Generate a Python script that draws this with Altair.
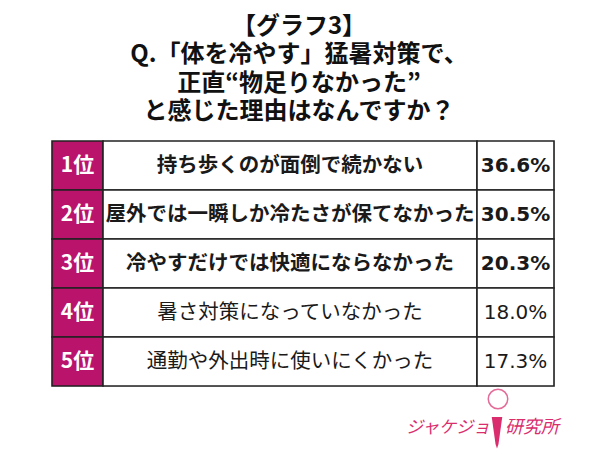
import altair as alt
import pandas as pd

# ---- data ----
title_lines = ["【グラフ3】", "Q.「体を冷やす」猛暑対策で、", "正直“物足りなかった”", "と感じた理由はなんですか？"]
ranks = ["1位", "2位", "3位", "4位", "5位"]
reasons = [
    "持ち歩くのが面倒で続かない",
    "屋外では一瞬しか冷たさが保てなかった",
    "冷やすだけでは快適にならなかった",
    "暑さ対策になっていなかった",
    "通勤や外出時に使いにくかった",
]
values = [36.6, 30.5, 20.3, 18.0, 17.3]
logo_parts = ["ジャケジョ", "研究所"]

# ---- layout constants ----
W, H = 502, 245
COL_EDGES = [0, 51, 425, 502]
MAGENTA = "#BA136C"
PINK = "#DA2D6E"
JP = "Noto Sans CJK JP"

rows = pd.DataFrame({
    "rank": ranks,
    "reason": reasons,
    "pct": [f"{v:.1f}%" for v in values],
    "top": [i < 3 for i in range(len(ranks))],
})
rows["xc0"] = (COL_EDGES[0] + COL_EDGES[1]) / 2
rows["xc1"] = (COL_EDGES[1] + COL_EDGES[2]) / 2
rows["xc2"] = (COL_EDGES[2] + COL_EDGES[3]) / 2

cells = []
for r in ranks:
    for c in range(3):
        cells.append({"rank": r, "x0": COL_EDGES[c], "x1": COL_EDGES[c + 1],
                      "kind": "rank" if c == 0 else "body"})
cells = pd.DataFrame(cells)

xs = alt.Scale(domain=[0, W], nice=False, zero=False)
ys = alt.Scale(domain=ranks, paddingInner=0, paddingOuter=0)

rect = alt.Chart(cells).mark_rect(stroke="#222222", strokeWidth=1.6).encode(
    x=alt.X("x0:Q", scale=xs, axis=None),
    x2="x1:Q",
    y=alt.Y("rank:N", scale=ys, axis=None, sort=ranks),
    color=alt.Color("kind:N", scale=alt.Scale(domain=["rank", "body"], range=[MAGENTA, "#ffffff"]), legend=None),
)

base = alt.Chart(rows)
yenc = alt.Y("rank:N", scale=ys, axis=None, sort=ranks)

rank_text = base.mark_text(font=JP, fontSize=21, fontWeight="bold", color="white").encode(
    x=alt.X("xc0:Q", scale=xs, axis=None), y=yenc, text="rank:N")

reason_bold = base.transform_filter("datum.top").mark_text(
    font=JP, fontSize=20.5, fontWeight="bold", color="#1a1a1a").encode(
    x=alt.X("xc1:Q", scale=xs, axis=None), y=yenc, text="reason:N")
reason_norm = base.transform_filter("!datum.top").mark_text(
    font=JP, fontSize=20.5, fontWeight="normal", color="#1a1a1a").encode(
    x=alt.X("xc1:Q", scale=xs, axis=None), y=yenc, text="reason:N")

pct_bold = base.transform_filter("datum.top").mark_text(
    font="DejaVu Sans", fontSize=20, fontWeight="bold", color="#1a1a1a").encode(
    x=alt.X("xc2:Q", scale=xs, axis=None), y=yenc, text="pct:N")
pct_norm = base.transform_filter("!datum.top").mark_text(
    font="DejaVu Sans", fontSize=20, fontWeight="normal", color="#1a1a1a").encode(
    x=alt.X("xc2:Q", scale=xs, axis=None), y=yenc, text="pct:N")

# logo (decoration)
logo_df = pd.DataFrame({"t": [logo_parts[0]]})
logo_df2 = pd.DataFrame({"t": [logo_parts[1]]})
logo1 = alt.Chart(logo_df).mark_text(font=JP, fontSize=17, fontStyle="italic", color=PINK).encode(
    x=alt.value(396), y=alt.value(287), text="t:N")
logo2 = alt.Chart(logo_df2).mark_text(font=JP, fontSize=18, fontStyle="italic", color=PINK).encode(
    x=alt.value(480), y=alt.value(287), text="t:N")
head = alt.Chart(logo_df).mark_point(shape="circle", size=380, stroke=PINK, strokeWidth=1.5, filled=False).encode(
    x=alt.value(446), y=alt.value(258))
tie = alt.Chart(logo_df).mark_point(shape="M-0.35,-1L0.35,-1L0.1,0.8L0,1.1L-0.1,0.8Z", size=900,
                                    fill=PINK, filled=True, opacity=1, strokeWidth=0).encode(
    x=alt.value(445), y=alt.value(291))

chart = alt.layer(rect, rank_text, reason_bold, reason_norm, pct_bold, pct_norm, logo1, logo2, head, tie).properties(
    width=W, height=H,
    title=alt.TitleParams(text=title_lines, font=JP, fontSize=24, fontWeight="bold", color="#111111",
                          lineHeight=28.5, anchor="middle", dx=-4, offset=16),
    padding={"left": 44, "top": 133, "right": 45, "bottom": 64},
    autosize=alt.AutoSizeParams(type="none"),
).configure_view(strokeWidth=0).configure(background="white")

chart.save("out.html", embed_options={"renderer": "svg", "actions": False})
